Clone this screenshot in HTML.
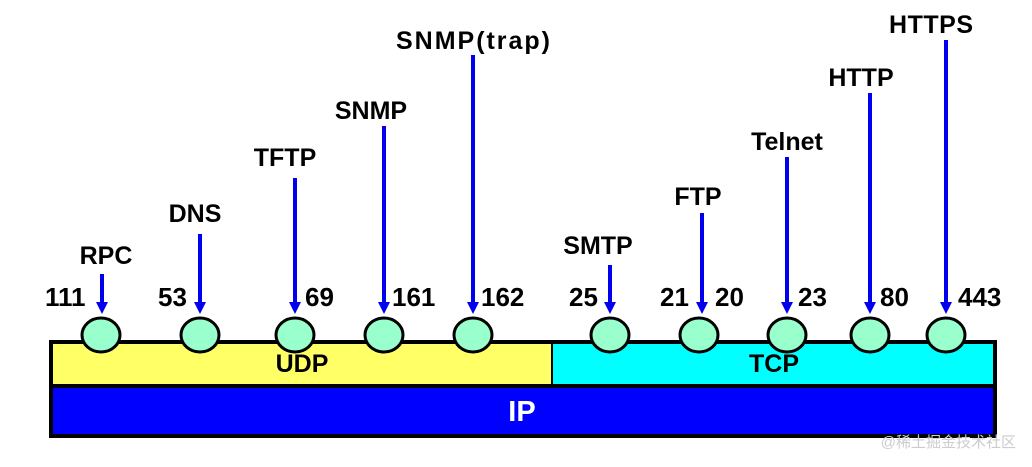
<!DOCTYPE html>
<html><head><meta charset="utf-8"><style>
html,body{margin:0;padding:0;background:#fff;width:1032px;height:467px;overflow:hidden}
text{font-family:"Liberation Sans","Noto Sans CJK SC",sans-serif;font-weight:bold}
</style></head><body>
<svg width="1032" height="467" xmlns="http://www.w3.org/2000/svg">
<rect x="49" y="340" width="948" height="98" fill="#000"/>
<rect x="53" y="344" width="498" height="40" fill="#ffff66"/>
<rect x="553" y="344" width="440" height="40" fill="#00ffff"/>
<rect x="53" y="388" width="940" height="46" fill="#0000ff"/>
<text x="302" y="372" font-size="25" text-anchor="middle">UDP</text>
<text x="774" y="372" font-size="25" text-anchor="middle">TCP</text>
<text x="522" y="421" font-size="29" text-anchor="middle" fill="#fff">IP</text>
<g fill="#99ffcc" stroke="#000" stroke-width="3">
<ellipse cx="101" cy="335" rx="19" ry="17"/>
<ellipse cx="200" cy="335" rx="19" ry="17"/>
<ellipse cx="295" cy="335" rx="19" ry="17"/>
<ellipse cx="384" cy="335" rx="19" ry="17"/>
<ellipse cx="473" cy="335" rx="19" ry="17"/>
<ellipse cx="610" cy="335" rx="19" ry="17"/>
<ellipse cx="699" cy="335" rx="19" ry="17"/>
<ellipse cx="787" cy="335" rx="19" ry="17"/>
<ellipse cx="870" cy="335" rx="19" ry="17"/>
<ellipse cx="946" cy="335" rx="19" ry="17"/>
</g>
<g stroke="#0000ee" stroke-width="4">
<line x1="102" y1="274" x2="102" y2="304"/>
<line x1="200" y1="234" x2="200" y2="304"/>
<line x1="295" y1="178" x2="295" y2="304"/>
<line x1="384" y1="126" x2="384" y2="304"/>
<line x1="473" y1="55" x2="473" y2="304"/>
<line x1="610" y1="265" x2="610" y2="304"/>
<line x1="702" y1="213" x2="702" y2="304"/>
<line x1="787" y1="157" x2="787" y2="304"/>
<line x1="870" y1="93" x2="870" y2="304"/>
<line x1="946" y1="40" x2="946" y2="304"/>
</g>
<g fill="#0000ee">
<polygon points="96,302 108,302 102,314"/>
<polygon points="194,302 206,302 200,314"/>
<polygon points="289,302 301,302 295,314"/>
<polygon points="378,302 390,302 384,314"/>
<polygon points="467,302 479,302 473,314"/>
<polygon points="604,302 616,302 610,314"/>
<polygon points="696,302 708,302 702,314"/>
<polygon points="781,302 793,302 787,314"/>
<polygon points="864,302 876,302 870,314"/>
<polygon points="940,302 952,302 946,314"/>
</g>
<g font-size="26">
<text x="45" y="306">111</text>
<text x="158" y="306">53</text>
<text x="305" y="306">69</text>
<text x="392" y="306">161</text>
<text x="481" y="306">162</text>
<text x="569" y="306">25</text>
<text x="660" y="306">21</text>
<text x="715" y="306">20</text>
<text x="798" y="306">23</text>
<text x="880" y="306">80</text>
<text x="958" y="306">443</text>
</g>
<g font-size="25" text-anchor="middle">
<text x="106" y="264">RPC</text>
<text x="195" y="222">DNS</text>
<text x="285" y="166">TFTP</text>
<text x="371" y="119">SNMP</text>
<text x="473" y="49" textLength="154">SNMP(trap)</text>
<text x="598" y="254">SMTP</text>
<text x="698" y="205">FTP</text>
<text x="787" y="150">Telnet</text>
<text x="861" y="86">HTTP</text>
<text x="931" y="33" textLength="84">HTTPS</text>
</g>
<text x="1016" y="447" font-size="15" fill="#ccc" text-anchor="end" style="font-weight:normal">@稀土掘金技术社区</text>
</svg>
</body></html>
